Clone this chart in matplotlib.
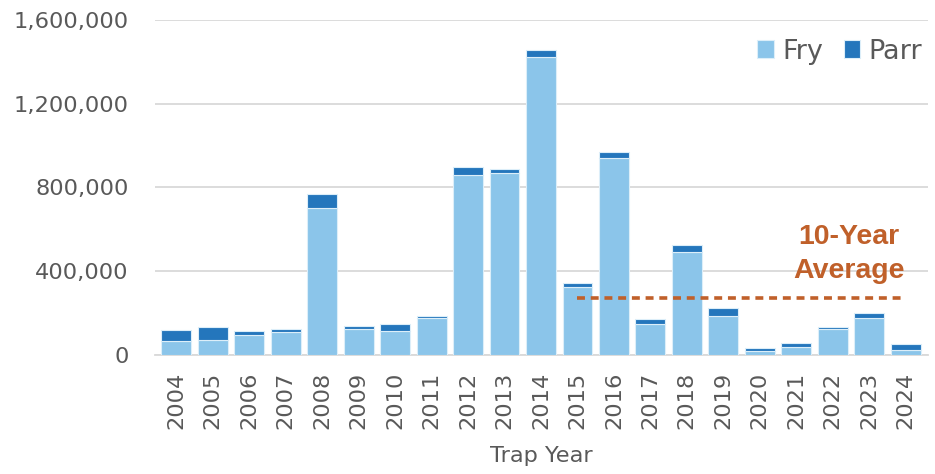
import numpy as np
import matplotlib
matplotlib.use("Agg")
import matplotlib.pyplot as plt
from matplotlib.ticker import FuncFormatter

years = [str(y) for y in range(2004, 2025)]
fry = [65000, 72000, 97000, 108000, 702000, 126000, 113000, 175000, 860000, 869000,
       1423000, 324000, 941000, 150000, 492000, 185000, 21000, 38000, 123000, 178000, 25000]
parr = [55000, 60000, 18000, 15000, 65000, 12000, 37000, 11000, 38000, 19000,
        34000, 21000, 29000, 22000, 33000, 38000, 12000, 18000, 9000, 21000, 28000]
avg_years = ["2015", "2024"]
avg_value = 271000

plt.rcParams['font.family'] = ['DejaVu Sans']
grey = '#595959'

fig = plt.figure(figsize=(9.35, 4.74), dpi=100)
ax = fig.add_axes([0.166, 0.251, 0.826, 0.707])

x = np.arange(len(years))
ax.bar(x, fry, width=0.82, color='#8BC5EA', edgecolor='#DCEEF9', linewidth=0.8, label='Fry', zorder=3)
ax.bar(x, parr, width=0.82, bottom=fry, color='#2476BC', edgecolor='#DCEEF9', linewidth=0.8, label='Parr', zorder=3)

i0, i1 = years.index(avg_years[0]), years.index(avg_years[1])
ax.plot([i0, i1], [avg_value, avg_value], color='#C0602A', lw=2.6, ls=(0, (2.2, 1.6)), zorder=4)
ax.text(18.45, 340000, '10-Year\nAverage', color='#C0602A', fontsize=20.5, fontweight='bold',
        ha='center', va='bottom', linespacing=1.4, family='Liberation Sans')

ax.set_xlim(-0.58, 20.6)
ax.set_ylim(0, 1600000)
ax.set_yticks(np.arange(0, 1600001, 400000))
ax.yaxis.set_major_formatter(FuncFormatter(lambda v, p: f'{int(v):,}'))
ax.set_xticks(x)
ax.set_xticklabels(years, rotation=90)
ax.tick_params(axis='both', length=0, labelsize=16.2, colors=grey)
ax.tick_params(axis='y', pad=19)
ax.tick_params(axis='x', pad=12)
ax.grid(axis='y', color='#D9D9D9', lw=1.3, zorder=0)
for s in ['top', 'right', 'left']:
    ax.spines[s].set_visible(False)
ax.spines['bottom'].set_color('#D9D9D9')
ax.spines['bottom'].set_linewidth(1.3)
ax.set_xlabel('Trap Year', fontsize=16.2, color=grey, labelpad=12)

leg = ax.legend(loc='center right', bbox_to_anchor=(1.0, 0.905), ncol=2, frameon=False, fontsize=19.5,
                handlelength=0.62, handleheight=0.62, handletextpad=0.3, columnspacing=0.75,
                borderpad=0.1, borderaxespad=0.1)
for t in leg.get_texts():
    t.set_color(grey)

fig.savefig('out.png', dpi=100)
